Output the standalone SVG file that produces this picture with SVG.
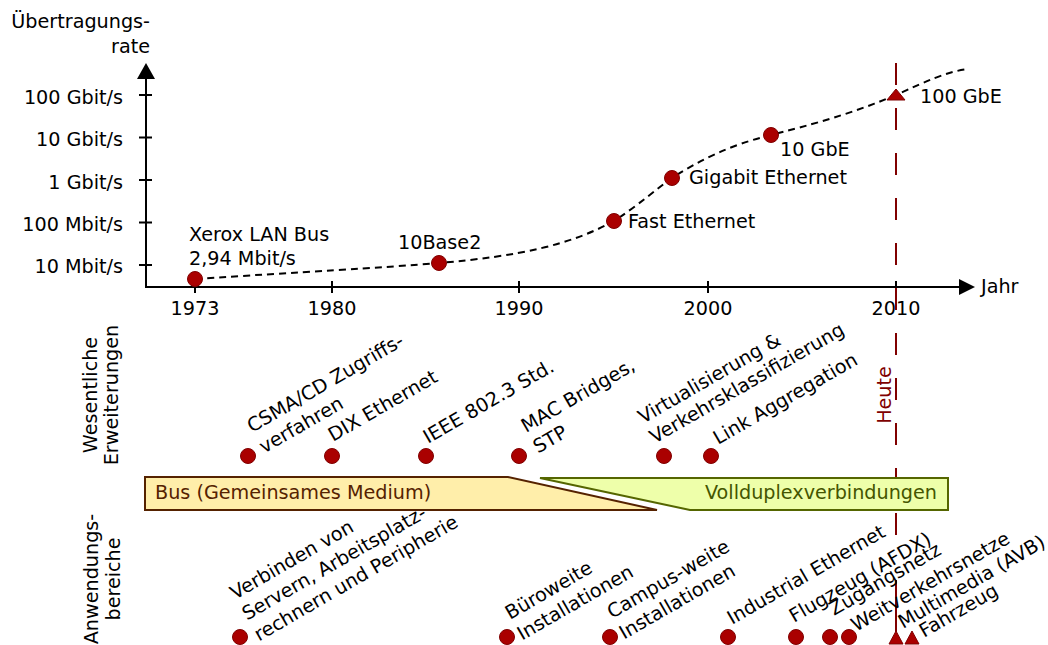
<svg xmlns="http://www.w3.org/2000/svg" width="1048" height="645" viewBox="0 0 1048 645">
<style>
text{font-family:"DejaVu Sans","Liberation Sans",sans-serif;font-size:19.2px;fill:#000}
.ax{stroke:#000;stroke-width:2;fill:none}
.dot{fill:#aa0000;stroke:#800000;stroke-width:1}
.r{text-anchor:end}
.m{text-anchor:middle}
</style>
<rect width="1048" height="645" fill="#fff"/>
<g id="axes">
<line class="ax" x1="146" y1="287" x2="146" y2="78"/>
<path d="M146,63 L137,79 L155,79 Z" fill="#000"/>
<line class="ax" x1="145" y1="287" x2="959" y2="287"/>
<path d="M975,287 L959,279 L959,295 Z" fill="#000"/>
<path class="ax" d="M139,95H152M139,137.5H152M139,180H152M139,222.5H152M139,265H152"/>
<path class="ax" d="M195,281V293M332,281V293M519,281V293M708,281V293M896,281V293"/>
<text class="r" x="150" y="28">Übertragungs-</text>
<text class="r" x="150" y="53">rate</text>
<text class="r" x="123" y="104">100 Gbit/s</text>
<text class="r" x="123" y="146">10 Gbit/s</text>
<text class="r" x="123" y="189">1 Gbit/s</text>
<text class="r" x="123" y="231">100 Mbit/s</text>
<text class="r" x="123" y="273">10 Mbit/s</text>
<text class="m" x="195" y="315">1973</text>
<text class="m" x="332" y="315">1980</text>
<text class="m" x="519" y="315">1990</text>
<text class="m" x="708" y="315">2000</text>
<text class="m" x="896" y="315">2010</text>
<text x="981" y="293">Jahr</text>
</g>
<g id="connectors">
<path d="M195,279 C300,272 380,268 439,263 C520,256 570,245 614,221 C640,204 655,190 672,178 C700,160 730,145 771,135 C830,120 860,110 896,95 C925,82 945,72 968,69" fill="none" stroke="#000" stroke-width="2" stroke-dasharray="7 5"/>
<line x1="896" y1="63" x2="896" y2="540" stroke="#800000" stroke-width="2" stroke-dasharray="22 23"/>
<line x1="896" y1="580" x2="896" y2="632" stroke="#800000" stroke-width="2"/>
</g>
<g id="heute"><text class="m" transform="translate(891,395) rotate(-90)" style="fill:#800000">Heute</text></g>
<g id="rates">
<circle class="dot" cx="195" cy="279" r="7.5"/>
<text x="189" y="241">Xerox LAN Bus</text>
<text x="189" y="265">2,94 Mbit/s</text>
<circle class="dot" cx="439" cy="263" r="7.5"/>
<text x="398" y="249">10Base2</text>
<circle class="dot" cx="614" cy="221" r="7.5"/>
<text x="628" y="228">Fast Ethernet</text>
<circle class="dot" cx="672" cy="178" r="7.5"/>
<text x="689" y="184">Gigabit Ethernet</text>
<circle class="dot" cx="771" cy="135" r="7.5"/>
<text x="780" y="156">10 GbE</text>
<path class="dot" d="M896,89 L905,100 L887,100 Z"/>
<text x="920" y="103">100 GbE</text>
</g>
<g id="erweiterungen">
<text class="m" transform="translate(97,395) rotate(-90)">Wesentliche</text>
<text class="m" transform="translate(118,395) rotate(-90)">Erweiterungen</text>
<circle class="dot" cx="248" cy="456" r="7.5"/>
<text transform="translate(252,433) rotate(-30)"><tspan x="0">CSMA/CD Zugriffs-</tspan><tspan x="0" dy="24">verfahren</tspan></text>
<circle class="dot" cx="332" cy="456" r="7.5"/>
<text transform="translate(333,442) rotate(-30)">DIX Ethernet</text>
<circle class="dot" cx="426" cy="456" r="7.5"/>
<text transform="translate(428,444) rotate(-30)">IEEE 802.3 Std.</text>
<circle class="dot" cx="519" cy="456" r="7.5"/>
<text transform="translate(526,433) rotate(-30)"><tspan x="0">MAC Bridges,</tspan><tspan x="0" dy="24">STP</tspan></text>
<circle class="dot" cx="664" cy="456" r="7.5"/>
<text transform="translate(643,424) rotate(-30)"><tspan x="0">Virtualisierung &amp;</tspan><tspan x="0" dy="23">Verkehrsklassifizierung</tspan></text>
<circle class="dot" cx="711" cy="456" r="7.5"/>
<text transform="translate(718,445) rotate(-30)">Link Aggregation</text>
</g>
<g id="bus">
<path d="M145,477 L508,477 L657,510 L145,510 Z" fill="#ffeeaa" stroke="#552200" stroke-width="2"/>
<text x="155" y="499" style="fill:#552200">Bus (Gemeinsames Medium)</text>
</g>
<g id="vollduplex">
<path d="M540,478 L948,478 L948,510 L690,510 Z" fill="#eeffaa" stroke="#556600" stroke-width="2"/>
<text class="r" x="937" y="499" style="fill:#445500">Vollduplexverbindungen</text>
</g>
<g id="anwendung">
<text class="m" transform="translate(98,579) rotate(-90)">Anwendungs-</text>
<text class="m" transform="translate(120,579) rotate(-90)">bereiche</text>
<circle class="dot" cx="240" cy="637" r="7.5"/>
<text transform="translate(235,600) rotate(-30)"><tspan x="0">Verbinden von</tspan><tspan x="0" dy="24">Servern, Arbeitsplatz-</tspan><tspan x="0" dy="24">rechnern und Peripherie</tspan></text>
<circle class="dot" cx="507" cy="637" r="7.5"/>
<text transform="translate(510,620) rotate(-30)"><tspan x="0">Büroweite</tspan><tspan x="0" dy="24">Installationen</tspan></text>
<circle class="dot" cx="610" cy="637" r="7.5"/>
<text transform="translate(612,619) rotate(-30)"><tspan x="0">Campus-weite</tspan><tspan x="0" dy="24">Installationen</tspan></text>
<circle class="dot" cx="728" cy="637" r="7.5"/>
<text transform="translate(732,625) rotate(-30)">Industrial Ethernet</text>
<circle class="dot" cx="796" cy="637" r="7.5"/>
<text transform="translate(794,623) rotate(-30)">Flugzeug (AFDX)</text>
<circle class="dot" cx="830" cy="637" r="7.5"/>
<text transform="translate(834,616) rotate(-30)">Zugangsnetz</text>
<circle class="dot" cx="849" cy="637" r="7.5"/>
<text transform="translate(856,632) rotate(-30)">Weitverkehrsnetze</text>
<path class="dot" d="M896,631 L903,644 L889,644 Z"/>
<text transform="translate(903,629) rotate(-30)">Multimedia (AVB)</text>
<path class="dot" d="M912,631 L919,644 L905,644 Z"/>
<text transform="translate(924,638) rotate(-30)">Fahrzeug</text>
</g>
</svg>
